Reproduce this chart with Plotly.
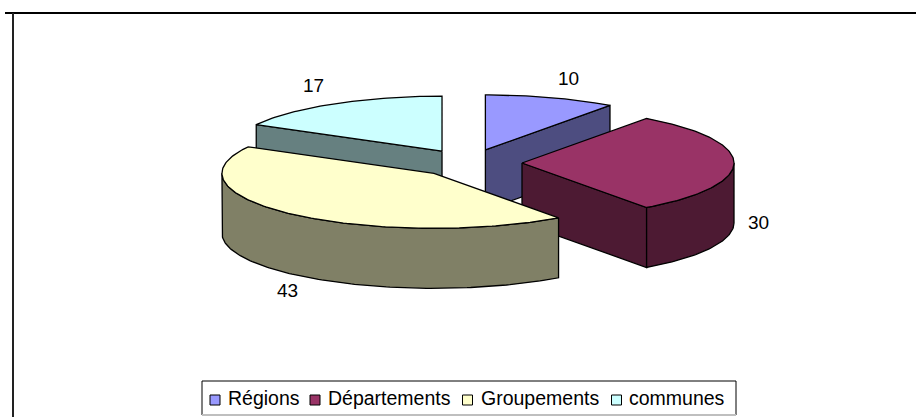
"""Exploded 3D-look pie, drawn as projected polygons on a pixel-sized axis."""

import math

import plotly.graph_objects as go

categories = ["Régions", "Départements", "Groupements", "communes"]
values = [10, 30, 43, 17]
top_colours = ["#9999FF", "#993366", "#FFFFCC", "#CCFFFF"]
side_colours = ["#4D4D80", "#4D1A33", "#808066", "#668080"]

WIDTH, HEIGHT = 916, 417
CX, CY = 469, 163  # pie centre before exploding
RX, RY = 212, 55   # tilted ellipse radii
DEPTH = 60
EXPLODE = 0.25
FONT = "Liberation Sans, Arial, sans-serif"

# painter's order: back slices first
DRAW_ORDER = [3, 0, 1, 2]
LABEL_POS = [(568, 78), (758, 222), (287, 290), (313, 85)]
SWATCH_X = [215, 315, 467.5, 616.5]
TEXT_X = [226, 326, 479, 627]
LEGEND_Y = 398
SWATCH_Y = 400


def point(apex, deg):
    rad = math.radians(deg)
    return apex[0] + RX * math.sin(rad), apex[1] - RY * math.cos(rad)


def arc(apex, a0, a1):
    n = max(2, int(abs(a1 - a0)))
    return [point(apex, a0 + (a1 - a0) * i / n) for i in range(n + 1)]


def add_poly(fig, pts, colour):
    fig.add_trace(go.Scatter(
        x=[p[0] for p in pts] + [pts[0][0]],
        y=[p[1] for p in pts] + [pts[0][1]],
        mode="lines",
        fill="toself",
        fillcolor=colour,
        line=dict(color="black", width=1.3),
        hoverinfo="skip",
        showlegend=False,
    ))


def extrude(pts):
    return pts + [(x, y + DEPTH) for x, y in reversed(pts)]


total = sum(values)
angles = [0]
for v in values:
    angles.append(angles[-1] + 360 * v / total)

fig = go.Figure()

for i in DRAW_ORDER:
    a0, a1 = angles[i], angles[i + 1]
    mid = math.radians((a0 + a1) / 2)
    apex = (CX + EXPLODE * RX * math.sin(mid), CY - EXPLODE * RY * math.cos(mid))
    # cut faces that look towards the viewer
    if a1 < 180:
        add_poly(fig, extrude([apex, point(apex, a1)]), side_colours[i])
    if a0 > 180:
        add_poly(fig, extrude([apex, point(apex, a0)]), side_colours[i])
    # outer rim, front half only
    lo, hi = max(a0, 90), min(a1, 270)
    if lo < hi:
        add_poly(fig, extrude(arc(apex, lo, hi)), side_colours[i])
    add_poly(fig, [apex] + arc(apex, a0, a1), top_colours[i])

for i, name in enumerate(categories):
    fig.add_trace(go.Scatter(
        x=[SWATCH_X[i]], y=[SWATCH_Y],
        mode="markers",
        marker=dict(symbol="square", size=10, color=top_colours[i],
                    line=dict(color="black", width=1)),
        name=name,
        hoverinfo="name",
        showlegend=False,
    ))
    fig.add_annotation(
        x=TEXT_X[i], y=LEGEND_Y, text=name, showarrow=False,
        xanchor="left", yanchor="middle",
        font=dict(family=FONT, size=19.5, color="black"),
    )
    fig.add_annotation(
        x=LABEL_POS[i][0], y=LABEL_POS[i][1], text=str(values[i]), showarrow=False,
        font=dict(family=FONT, size=19, color="black"),
    )

line = dict(color="black", width=2)
fig.add_shape(type="line", x0=5, x1=WIDTH, y0=13, y1=13, line=line)
fig.add_shape(type="line", x0=13, x1=13, y0=13, y1=HEIGHT, line=dict(color="#222222", width=2))

# legend box: the bottom edge is a faint grey in the reference
fig.add_shape(type="rect", x0=202, x1=736, y0=381, y1=415,
              line=dict(width=0), fillcolor="white", layer="below")
box_line = dict(color="black", width=1)
fig.add_shape(type="line", x0=202, x1=736, y0=381, y1=381, line=box_line)
fig.add_shape(type="line", x0=202, x1=202, y0=381, y1=415, line=box_line)
fig.add_shape(type="line", x0=736, x1=736, y0=381, y1=415, line=box_line)
fig.add_shape(type="line", x0=202, x1=736, y0=415, y1=415, line=dict(color="#BFBFBF", width=2))

fig.update_layout(
    width=WIDTH, height=HEIGHT,
    margin=dict(l=0, r=0, t=0, b=0),
    paper_bgcolor="white", plot_bgcolor="white",
    showlegend=False,
    xaxis=dict(range=[0, WIDTH], visible=False, fixedrange=True),
    yaxis=dict(range=[HEIGHT, 0], visible=False, fixedrange=True),
)
# the page's default body margin would push everything 8px off
fig.write_html(
    "out.html",
    config=dict(displayModeBar=False),
    post_script="document.body.style.margin='0';document.body.style.overflow='hidden';",
)
